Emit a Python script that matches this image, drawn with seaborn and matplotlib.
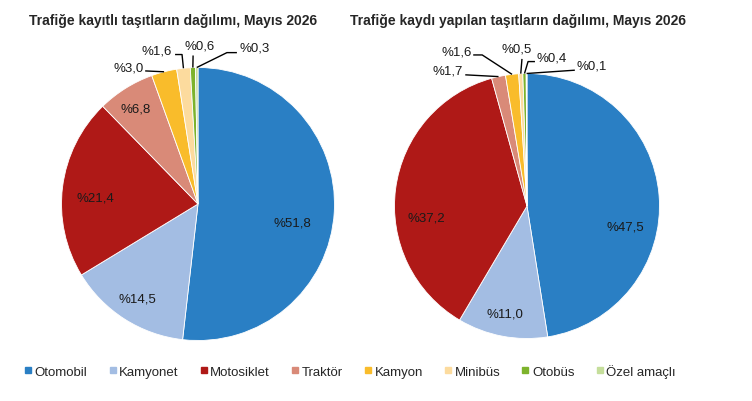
import numpy as np
import matplotlib
matplotlib.use("Agg")
import matplotlib.pyplot as plt
import seaborn as sns
from matplotlib.lines import Line2D

# 데이터
categories = ["Otomobil", "Kamyonet", "Motosiklet", "Traktör", "Kamyon", "Minibüs", "Otobüs", "Özel amaçlı"]
kayitli = [51.8, 14.5, 21.4, 6.8, 3.0, 1.6, 0.6, 0.3]
kaydi_yapilan = [47.5, 11.0, 37.2, 1.7, 1.6, 0.5, 0.4, 0.1]
titles = ["Trafiğe kayıtlı taşıtların dağılımı, Mayıs 2026",
          "Trafiğe kaydı yapılan taşıtların dağılımı, Mayıs 2026"]
colors = ["#2A7FC4", "#A3BDE3", "#AF1917", "#D98A78", "#F9BC2B", "#FCDB9E", "#7DB32C", "#C5DE9B"]

sns.set_theme(style="white")
plt.rcParams['font.family'] = ['Liberation Sans', 'DejaVu Sans']

W, H = 752, 402
fig = plt.figure(figsize=(W / 100, H / 100), dpi=100)


def fmt(v):
    return "%" + f"{v:.1f}".replace(".", ",")


# 레이아웃 (픽셀 단위 중심/반지름, 라벨 위치는 반지름 단위)
pies = [
    dict(vals=kayitli, cx=198, cy=205, r=136.5,
         inside={0: (0.695, -0.132), 1: (-0.443, -0.695), 2: (-0.755, 0.044), 3: (-0.454, 0.70)},
         outside={4: dict(text=(-0.401, 1.0), ha="right", path=[(-0.387, 0.975)]),
                  5: dict(text=(-0.30, 1.124), ha="center", path=[(-0.168, 1.095), (-0.117, 1.095)]),
                  6: dict(text=(0.015, 1.16), ha="center", path=[(-0.036, 1.088)]),
                  7: dict(text=(0.307, 1.146), ha="left", path=[(0.285, 1.109), (0.212, 1.109)])}),
    dict(vals=kaydi_yapilan, cx=527, cy=207, r=132.5,
         inside={0: (0.74, -0.156), 1: (-0.166, -0.815), 2: (-0.757, -0.085)},
         outside={3: dict(text=(-0.481, 1.02), ha="right", path=[(-0.466, 0.99)]),
                  4: dict(text=(-0.414, 1.165), ha="right", path=[(-0.406, 1.14), (-0.338, 1.14)]),
                  5: dict(text=(-0.075, 1.19), ha="center", path=[(-0.038, 1.11)]),
                  6: dict(text=(0.075, 1.12), ha="left", path=[(0.06, 1.09), (0.008, 1.09)]),
                  7: dict(text=(0.376, 1.06), ha="left", path=[(0.361, 1.025)])}),
]

for p in pies:
    half_w, half_h = 180, 190
    ax = fig.add_axes([(p["cx"] - half_w) / W, (H - p["cy"] - half_h) / H,
                       2 * half_w / W, 2 * half_h / H])
    vals = np.array(p["vals"])
    wedges, _ = ax.pie(vals, colors=colors, startangle=90, counterclock=False,
                       wedgeprops=dict(edgecolor="white", linewidth=0.6))
    ax.set_xlim(-half_w / p["r"], half_w / p["r"])
    ax.set_ylim(-half_h / p["r"], half_h / p["r"])
    ax.set_aspect("equal", adjustable="box")
    ax.axis("off")

    cum = np.cumsum(vals) / vals.sum()
    mid = cum - vals / vals.sum() / 2
    for i, (x, y) in p["inside"].items():
        ax.text(x, y, fmt(vals[i]), ha="center", va="center", fontsize=9.5, color="#1a1a1a")
    for i, o in p["outside"].items():
        th = np.deg2rad(90 - 360 * mid[i])
        pts = o["path"] + [(np.cos(th), np.sin(th))]
        ax.plot([q[0] for q in pts], [q[1] for q in pts], color="black", lw=1.0,
                solid_capstyle="butt", clip_on=False)
        ax.text(o["text"][0], o["text"][1], fmt(vals[i]), ha=o["ha"], va="center",
                fontsize=9.5, color="#1a1a1a")

fig.text(173.5 / W, 1 - 21 / H, titles[0], ha="center", va="center", fontsize=10, fontweight="bold")
fig.text(518 / W, 1 - 21 / H, titles[1], ha="center", va="center", fontsize=10, fontweight="bold")

handles = [Line2D([], [], marker="s", linestyle="none", markersize=5, color=c) for c in colors]
fig.legend(handles, categories, loc="center", bbox_to_anchor=(350 / W, 1 - 372 / H), ncol=8,
           frameon=False, fontsize=9.5, handlelength=0.6, handletextpad=0.2, columnspacing=1.6)

fig.savefig("out.png", dpi=100)
